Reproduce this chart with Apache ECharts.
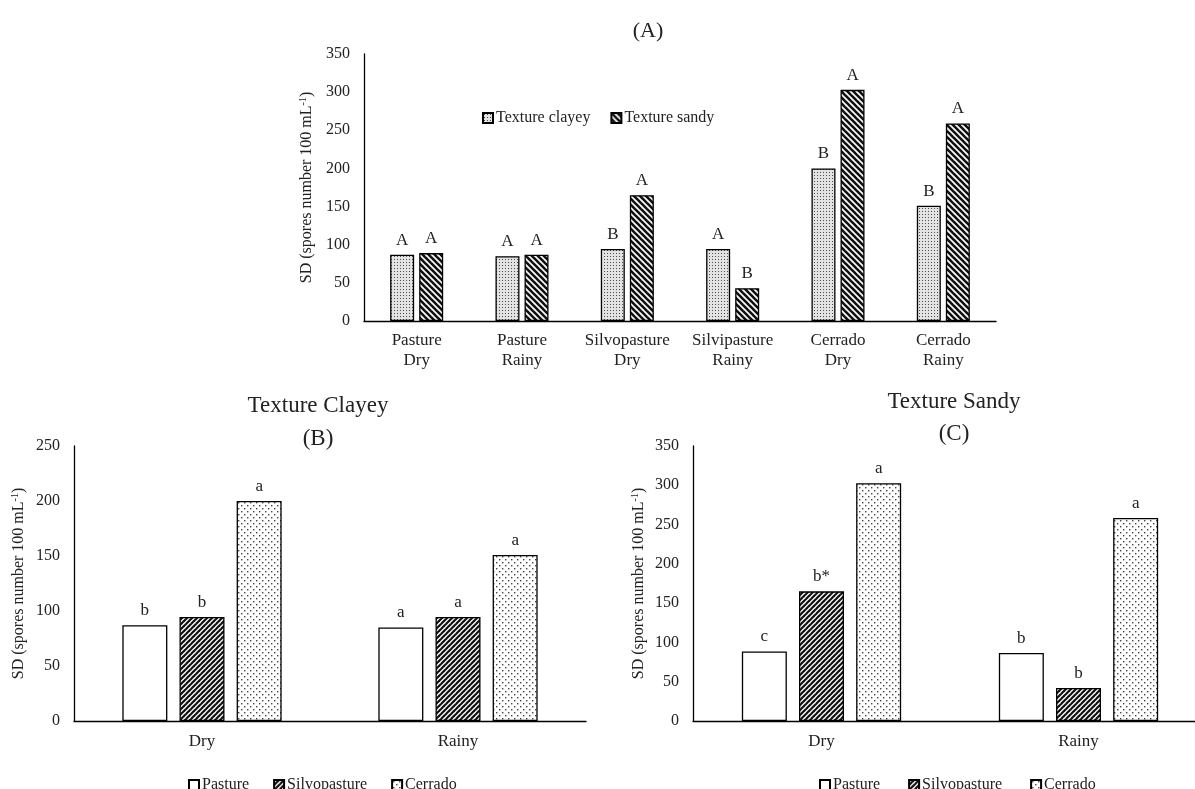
<!DOCTYPE html>
<html>
<head>
<meta charset="utf-8">
<script src="https://cdn.jsdelivr.net/npm/echarts@6/dist/echarts.min.js"></script>
<style>
html,body{margin:0;padding:0;background:#fff;}
#chart{width:1195px;height:789px;}
</style>
</head>
<body>
<div id="chart"></div>
<script>
// ---------- DATA ----------
var categoriesA = ['Pasture\nDry', 'Pasture\nRainy', 'Silvopasture\nDry', 'Silvipasture\nRainy', 'Cerrado\nDry', 'Cerrado\nRainy'];
var clayeyA = [87, 85, 94.5, 94.5, 200, 151];
var sandyA = [89, 87, 165, 43, 303, 259];
var lettersClayeyA = ['A', 'A', 'B', 'A', 'B', 'B'];
var lettersSandyA = ['A', 'A', 'A', 'B', 'A', 'A'];

var seasons = ['Dry', 'Rainy'];
var pastureB = [87, 85];
var silvoB = [94.5, 94.5];
var cerradoB = [200, 151];
var lettersPastureB = ['b', 'a'];
var lettersSilvoB = ['b', 'a'];
var lettersCerradoB = ['a', 'a'];

var pastureC = [88.5, 86.5];
var silvoC = [165, 42];
var cerradoC = [302.5, 258.5];
var lettersPastureC = ['c', 'b'];
var lettersSilvoC = ['b*', 'b'];
var lettersCerradoC = ['a', 'a'];

var ticksA = {min: 0, max: 350, interval: 50};
var ticksB = {min: 0, max: 250, interval: 50};
var ticksC = {min: 0, max: 350, interval: 50};

// ---------- PATTERNS ----------
function tile(w, h, draw) {
  var c = document.createElement('canvas');
  c.width = w; c.height = h;
  var ctx = c.getContext('2d');
  draw(ctx, w, h);
  return {image: c, repeat: 'repeat'};
}
var patClayeyA = tile(3, 3, function (ctx, w, h) {
  ctx.fillStyle = '#e3e3e3'; ctx.fillRect(0, 0, w, h);
  ctx.fillStyle = '#4a4a4a'; ctx.fillRect(1, 1, 1, 1);
});
function stripes(ctx, w, h, dir, lw) {
  ctx.fillStyle = '#fff'; ctx.fillRect(0, 0, w, h);
  ctx.strokeStyle = '#111'; ctx.lineWidth = lw;
  for (var c = -w; c <= w; c += w) {
    ctx.beginPath();
    if (dir === 'back') { ctx.moveTo(-1, c - 1); ctx.lineTo(w + 1, w + c + 1); }
    else { ctx.moveTo(-1, w - c + 1); ctx.lineTo(w + 1, -c - 1); }
    ctx.stroke();
  }
}
var patSandyA = tile(6, 6, function (ctx, w, h) { stripes(ctx, w, h, 'back', 2.6); });
var patSilvo = tile(5, 5, function (ctx, w, h) { stripes(ctx, w, h, 'fwd', 2.2); });
var patCerrado = tile(6, 6, function (ctx, w, h) {
  ctx.fillStyle = '#fff'; ctx.fillRect(0, 0, w, h);
  ctx.fillStyle = '#444';
  ctx.fillRect(1, 1, 1.4, 1.4);
  ctx.fillRect(4, 4, 1.4, 1.4);
});

// ---------- OPTION ----------
var FONT = 'Liberation Serif';
var TXT = '#222';
var border = {borderColor: '#000', borderWidth: 1.3};

function yName() {
  return 'SD (spores number 100 mL{sup|-1})';
}
var nameStyle = {
  fontFamily: FONT, fontSize: 16, color: TXT,
  rich: {sup: {fontFamily: FONT, fontSize: 10, color: TXT, verticalAlign: 'top', padding: [0, 0, 8, 0]}}
};

function lab(arr, size) {
  return {
    show: true, position: 'top', distance: 6,
    fontFamily: FONT, fontSize: size, color: TXT,
    formatter: function (p) { return arr[p.dataIndex]; }
  };
}

function xAx(idx, data, margin) {
  return {
    type: 'category', gridIndex: idx, data: data,
    axisLine: {lineStyle: {color: '#000', width: 1.3}},
    axisTick: {show: false},
    axisLabel: {fontFamily: FONT, fontSize: 17, color: TXT, margin: margin, lineHeight: 20, interval: 0}
  };
}
function yAx(idx, t, gap) {
  return {
    type: 'value', gridIndex: idx, min: t.min, max: t.max, interval: t.interval,
    name: yName(), nameLocation: 'middle', nameGap: gap, nameTextStyle: nameStyle,
    axisLine: {show: true, lineStyle: {color: '#000', width: 1.3}},
    axisTick: {show: false},
    splitLine: {show: false},
    axisLabel: {fontFamily: FONT, fontSize: 16, color: TXT, margin: 14}
  };
}

var legendText = {fontFamily: FONT, fontSize: 16, color: TXT, padding: [0, 0, 0, -2]};

var option = {
  animation: false,
  backgroundColor: '#fff',
  title: [
    {text: '(A)', left: 643, top: 15, textAlign: 'center',
      textStyle: {fontFamily: FONT, fontSize: 22, fontWeight: 'normal', color: TXT}},
    {text: 'Texture Clayey\n(B)', left: 313, top: 384, textAlign: 'center',
      textStyle: {fontFamily: FONT, fontSize: 23, fontWeight: 'normal', color: TXT, lineHeight: 33}},
    {text: 'Texture Sandy\n(C)', left: 949, top: 381, textAlign: 'center',
      textStyle: {fontFamily: FONT, fontSize: 23, fontWeight: 'normal', color: TXT, lineHeight: 32}}
  ],
  legend: [
    {data: ['Texture clayey', 'Texture sandy'], left: 477, top: 105, itemWidth: 10, itemHeight: 10,
      itemGap: 20, icon: 'rect', textStyle: legendText},
    {data: ['Pasture', 'Silvopasture', 'Cerrado'], left: 183, top: 772, itemWidth: 10, itemHeight: 10,
      itemGap: 24, icon: 'rect', textStyle: legendText},
    {data: ['Pasture ', 'Silvopasture ', 'Cerrado '], left: 814, top: 772, itemWidth: 10, itemHeight: 10,
      itemGap: 24, icon: 'rect', textStyle: legendText}
  ],
  grid: [
    {left: 364, top: 54, width: 632, height: 267, outerBoundsMode: 'none'},
    {left: 74, top: 446, width: 512, height: 275, outerBoundsMode: 'none'},
    {left: 693, top: 446, width: 514, height: 275, outerBoundsMode: 'none'}
  ],
  xAxis: [xAx(0, categoriesA, 10), xAx(1, seasons, 11), xAx(2, seasons, 11)],
  yAxis: [yAx(0, ticksA, 46), yAx(1, ticksB, 46), yAx(2, ticksC, 45)],
  series: [
    {name: 'Texture clayey', type: 'bar', xAxisIndex: 0, yAxisIndex: 0, data: clayeyA,
      barWidth: 24, barGap: '21%', itemStyle: Object.assign({color: patClayeyA}, border), label: lab(lettersClayeyA, 17)},
    {name: 'Texture sandy', type: 'bar', xAxisIndex: 0, yAxisIndex: 0, data: sandyA,
      barWidth: 24, barGap: '21%', itemStyle: Object.assign({color: patSandyA}, border), label: lab(lettersSandyA, 17)},

    {name: 'Pasture', type: 'bar', xAxisIndex: 1, yAxisIndex: 1, data: pastureB,
      barWidth: 45, barGap: '27%', itemStyle: Object.assign({color: '#fff'}, border), label: lab(lettersPastureB, 17)},
    {name: 'Silvopasture', type: 'bar', xAxisIndex: 1, yAxisIndex: 1, data: silvoB,
      barWidth: 45, barGap: '27%', itemStyle: Object.assign({color: patSilvo}, border), label: lab(lettersSilvoB, 17)},
    {name: 'Cerrado', type: 'bar', xAxisIndex: 1, yAxisIndex: 1, data: cerradoB,
      barWidth: 45, barGap: '27%', itemStyle: Object.assign({color: patCerrado}, border), label: lab(lettersCerradoB, 17)},

    {name: 'Pasture ', type: 'bar', xAxisIndex: 2, yAxisIndex: 2, data: pastureC,
      barWidth: 45, barGap: '27%', itemStyle: Object.assign({color: '#fff'}, border), label: lab(lettersPastureC, 17)},
    {name: 'Silvopasture ', type: 'bar', xAxisIndex: 2, yAxisIndex: 2, data: silvoC,
      barWidth: 45, barGap: '27%', itemStyle: Object.assign({color: patSilvo}, border), label: lab(lettersSilvoC, 17)},
    {name: 'Cerrado ', type: 'bar', xAxisIndex: 2, yAxisIndex: 2, data: cerradoC,
      barWidth: 45, barGap: '27%', itemStyle: Object.assign({color: patCerrado}, border), label: lab(lettersCerradoC, 17)}
  ]
};

var chart = echarts.init(document.getElementById('chart'), null, {renderer: 'canvas'});
chart.setOption(option);
</script>
</body>
</html>
